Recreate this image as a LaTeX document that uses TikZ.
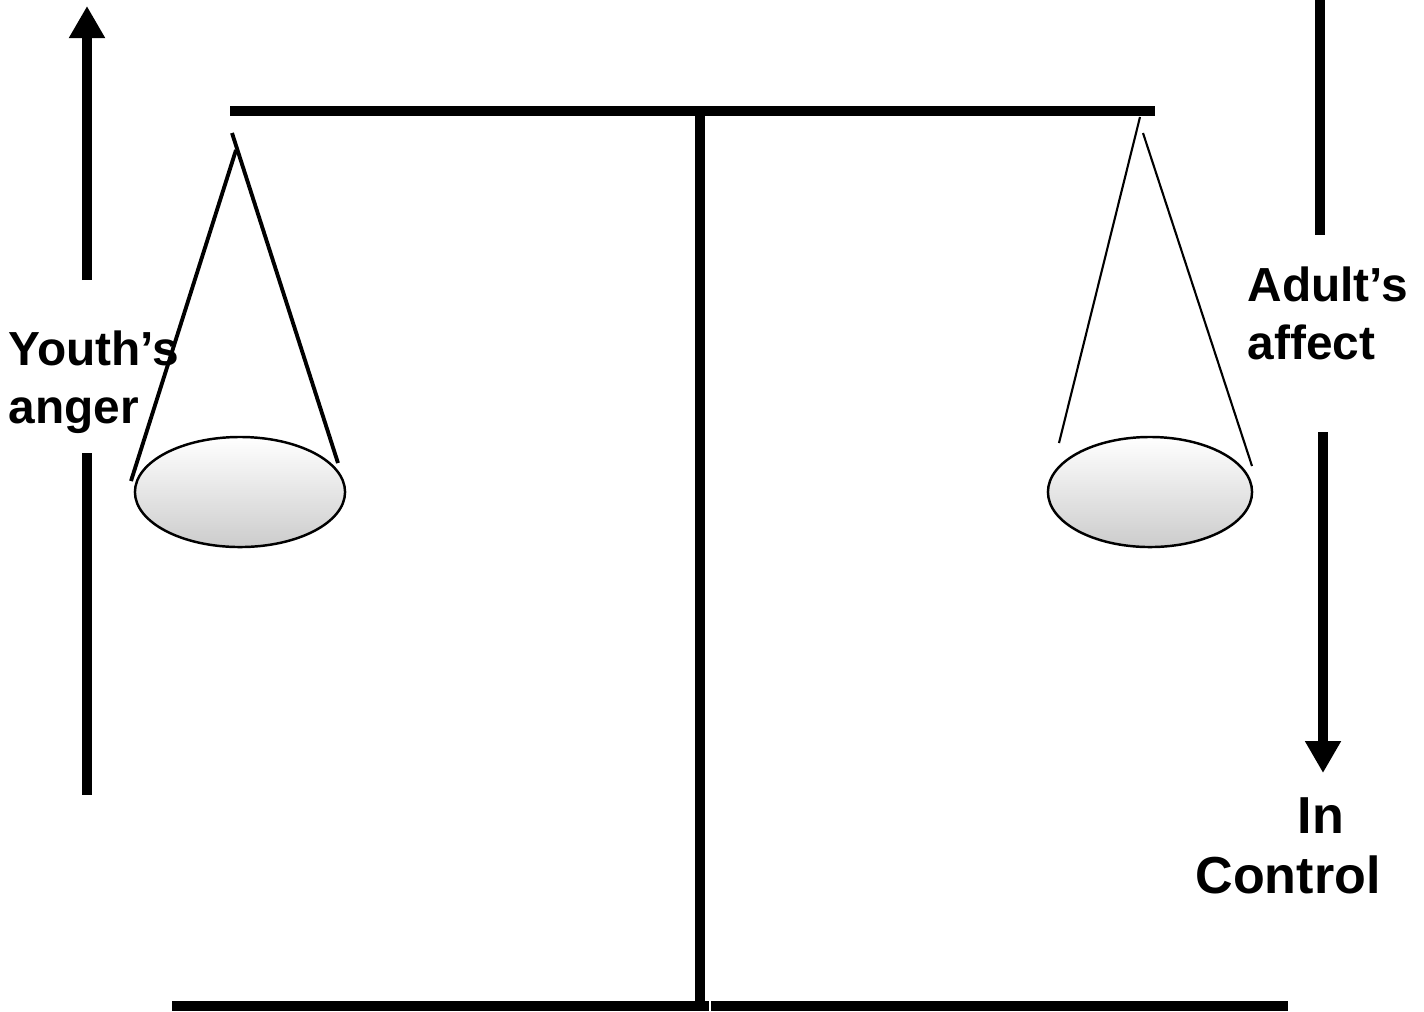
\documentclass[tikz,border=0pt]{standalone}
\usepackage{fontspec}
\setmainfont{Liberation Sans}
\usetikzlibrary{arrows.meta}

\begin{document}
\begin{tikzpicture}[x=0.01cm,y=-0.01cm,>={Triangle[width=0.34cm,length=0.32cm]},
  bar/.style={line width=3.1pt},
  ground/.style={line width=2.6pt},
  cord/.style={line width=1.1pt},
  thincord/.style={line width=0.6pt},
  pan/.style={draw=black,line width=0.7pt,top color=white,bottom color=black!20},
  lbl/.style={font=\fontsize{13.6}{16.5}\selectfont\bfseries,inner sep=0pt}]
  \useasboundingbox (0,0) rectangle (1424,1011);
  % beam and post
  \coordinate (bl) at (230,111);
  \coordinate (br) at (1155,111);
  \coordinate (top) at (700,111);
  \coordinate (foot) at (700,1004);
  \draw[bar] (bl)--(br);
  \draw[bar] (top)--(foot);
  \draw[ground] (172,1006)--(709,1006);
  \draw[ground] (711,1006)--(1288,1006);
  % left pan
  \coordinate (lp) at (240,492);
  \draw[cord] (236,150)--(131,481);
  \draw[cord] (232,133)--(338,463);
  \draw[pan] (lp) ellipse [x radius=1.05cm,y radius=0.55cm];
  % right pan
  \coordinate (rp) at (1150,492);
  \draw[thincord] (1140,117)--(1059,443);
  \draw[thincord] (1143,133)--(1252,466);
  \draw[pan] (rp) ellipse [x radius=1.02cm,y radius=0.55cm];
  % arrows and labels
  \node[lbl,anchor=west,align=left] (youth) at (8,382) {Youth’s\\anger};
  \draw[bar,->] (87,280)--(87,6);
  \draw[bar] (87,453)--(87,795);
  \node[lbl,anchor=west,align=left] (adult) at (1247,313) {Adult’s\\affect};
  \draw[bar] (1320,0)--(1320,235);
  \draw[bar,->] (1323,432)--(1323,773);
  \node[lbl,font=\fontsize{14.8}{17}\selectfont\bfseries,align=center] (ctrl) at (1288,846) {\hspace*{0.66cm}In\\Control};
\end{tikzpicture}
\end{document}
